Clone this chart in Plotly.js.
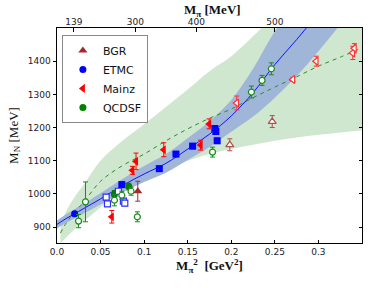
<!DOCTYPE html>
<html><head><meta charset="utf-8">
<script src="https://cdn.plot.ly/plotly-3.0.1.min.js"></script>
<style>body{margin:0;background:#fff;}#chart{width:382px;height:288px;}</style>
</head><body><div id="chart"></div>
<script>
// ---- data ----
const bgrX = [0.0927];
const bgrY = [1008];
const bgrE = [30];
const bgrOpenX = [0.1983, 0.247];
const bgrOpenY = [1148, 1218];
const bgrOpenE = [18, 18];

const etmcX = [0.0202, 0.0744, 0.1174, 0.1365, 0.1556, 0.1811, 0.1823, 0.1838];
const etmcY = [940, 1028, 1076, 1120, 1144, 1197, 1188, 1160];
const etmcE = [6, 8, 8, 8, 8, 8, 8, 8];
const etmcOpenX = [0.0564, 0.0579, 0.0705, 0.0762, 0.0778];
const etmcOpenY = [990, 970, 1008, 978, 972];
const etmcOpenE = [8, 8, 8, 8, 8];

const mainzX = [0.0629, 0.0865, 0.0907, 0.1225, 0.1648, 0.1746];
const mainzY = [931, 1071, 1098, 1133, 1147, 1211];
const mainzE = [19, 12, 25, 21, 15, 15];
const mainzOpenX = [0.2063, 0.2707, 0.2975, 0.3394, 0.3413];
const mainzOpenY = [1274, 1345, 1400, 1425, 1439];
const mainzOpenE = [21, 6, 15, 20, 14];

const qcdsfX = [0.0659, 0.0824];
const qcdsfY = [998, 1022];
const qcdsfE = [12, 10];
const qcdsfOpenX = [0.0247, 0.0327, 0.0659, 0.0744, 0.085, 0.0922, 0.1785, 0.2231, 0.2353, 0.246];
const qcdsfOpenY = [918, 976, 981, 996, 1008, 931, 1126, 1307, 1342, 1377];
const qcdsfOpenE = [20, 60, 17, 12, 12, 15, 15, 18, 15, 18];

// blue fit (solid line) and its band half-width
const blueFitX = [0, 0.01, 0.02, 0.03, 0.05, 0.075, 0.1, 0.125, 0.15, 0.175, 0.2, 0.225, 0.25, 0.275, 0.3, 0.325];
const blueFitY = [908, 925, 940, 955, 985, 1025, 1060, 1092, 1135, 1180, 1235, 1305, 1390, 1465, 1545, 1630];
const blueHalf = [12, 13, 14, 15, 17, 20, 24, 28, 33, 39, 48, 72, 100, 110, 115, 120];

// green fit (dashed line) and its band edges
const greenFitX = [0.004, 0.01, 0.02, 0.03, 0.05, 0.075, 0.1, 0.125, 0.15, 0.175, 0.2, 0.225, 0.25, 0.275, 0.3, 0.325, 0.35];
const greenFitY = [882, 910, 945, 973, 1038, 1085, 1120, 1160, 1196, 1228, 1256, 1290, 1322, 1353, 1385, 1412, 1440];
const greenLow  = [852, 868, 893, 915, 960, 1010, 1045, 1075, 1100, 1120, 1135, 1148, 1160, 1170, 1178, 1185, 1192];
const greenHigh = [905, 945, 990, 1025, 1100, 1160, 1210, 1262, 1315, 1370, 1415, 1475, 1540, 1600, 1660, 1720, 1780];

const xTickVals = [0, 0.05, 0.1, 0.15, 0.2, 0.25, 0.3];
const xTickText = ['0.0', '0.05', '0.1', '0.15', '0.2', '0.25', '0.3'];
const yTickVals = [900, 1000, 1100, 1200, 1300, 1400];
const topTickVals = [0.019321, 0.09, 0.16, 0.25];
const topTickText = ['139', '300', '400', '500'];

// ---- traces ----
const blueLow = blueFitY.map((v, i) => v - blueHalf[i]);
const blueHigh = blueFitY.map((v, i) => v + blueHalf[i]);

function pts(name, x, y, e, color, symbol, size, open, show, symArr) {
  return {
    type: 'scatter', mode: 'markers', name: name, x: x, y: y, showlegend: show,
    error_y: {type: 'data', array: e, visible: true, color: color, thickness: 1, width: 2.5},
    marker: {symbol: symArr || symbol, size: size, color: open ? 'white' : color,
             line: {color: color, width: open ? 1.2 : 0}}
  };
}

const traces = [
  {type: 'scatter', mode: 'lines', x: greenFitX, y: greenLow, line: {width: 0, shape: 'spline'}, showlegend: false, hoverinfo: 'skip'},
  {type: 'scatter', mode: 'lines', x: greenFitX, y: greenHigh, line: {width: 0, shape: 'spline'}, fill: 'tonexty', fillcolor: 'rgb(207,230,207)', showlegend: false, hoverinfo: 'skip'},
  {type: 'scatter', mode: 'lines', x: blueFitX, y: blueLow, line: {width: 0, shape: 'spline'}, showlegend: false, hoverinfo: 'skip'},
  {type: 'scatter', mode: 'lines', x: blueFitX, y: blueHigh, line: {width: 0, shape: 'spline'}, fill: 'tonexty', fillcolor: 'rgb(160,182,216)', showlegend: false, hoverinfo: 'skip'},
  {type: 'scatter', mode: 'lines', x: blueFitX, y: blueFitY, line: {color: '#0000ff', width: 0.9, shape: 'spline'}, showlegend: false},
  {type: 'scatter', mode: 'lines', x: greenFitX, y: greenFitY, line: {color: '#2e8b2e', width: 1, dash: '4px,4px', shape: 'spline'}, showlegend: false},
  pts('BGR', bgrX, bgrY, bgrE, '#a52a2a', 'triangle-up', 8, false, true),
  pts('ETMC', etmcX, etmcY, etmcE, '#0000ff', 'square', 7, false, true, etmcX.map((v, i) => i === 0 ? 'circle' : 'square')),
  pts('Mainz', mainzX, mainzY, mainzE, '#ff0000', 'triangle-left', 8, false, true),
  pts('QCDSF', qcdsfX, qcdsfY, qcdsfE, '#008000', 'circle', 7, false, true),
  pts('BGR open', bgrOpenX, bgrOpenY, bgrOpenE, '#b05050', 'triangle-up', 7, true, false),
  pts('ETMC open', etmcOpenX, etmcOpenY, etmcOpenE, '#3030ff', 'square', 6, true, false),
  pts('Mainz open', mainzOpenX, mainzOpenY, mainzOpenE, '#ff3030', 'triangle-left', 7, true, false),
  pts('QCDSF open', qcdsfOpenX, qcdsfOpenY, qcdsfOpenE, '#1a8a1a', 'circle', 6, true, false),
  // invisible trace so that the top (M_pi) and right axes are drawn
  {type: 'scatter', mode: 'markers', x: [topTickVals[0]], y: [yTickVals[0]], xaxis: 'x2', yaxis: 'y2',
   marker: {size: 1, opacity: 0}, showlegend: false, hoverinfo: 'skip'}
];

const tickFont = {family: 'DejaVu Sans', size: 9, color: '#222'};
const titleFont = {family: 'Liberation Serif', size: 13, color: '#111'};
const yRange = [852, 1500];
const xRange = [0, 0.35];

const layout = {
  width: 382, height: 288,
  margin: {l: 57, r: 20, t: 28, b: 45, pad: 0},
  paper_bgcolor: 'white', plot_bgcolor: 'white',
  showlegend: true,
  legend: {x: 0.016, y: 0.968, xanchor: 'left', yanchor: 'top', bgcolor: 'white', traceorder: 'normal',
           bordercolor: '#888', borderwidth: 1, font: {family: 'DejaVu Sans', size: 11, color: '#111'},
           tracegroupgap: 0, itemwidth: 30},
  xaxis: {range: xRange, tickvals: xTickVals, ticktext: xTickText, ticks: 'inside', ticklen: 3.5,
          tickcolor: '#000', showline: true, linecolor: '#000', linewidth: 1, mirror: true,
          showgrid: false, zeroline: false, tickfont: tickFont,
          title: {text: '<b>M<sub>π</sub><sup>2</sup>  [GeV<sup>2</sup>]</b>', font: titleFont, standoff: 4}},
  xaxis2: {range: xRange, overlaying: 'x', side: 'top', anchor: 'y2', tickvals: topTickVals, ticktext: topTickText,
           ticks: 'inside', ticklen: 3.5, tickcolor: '#000', showline: false, showgrid: false, zeroline: false,
           tickfont: tickFont},
  yaxis: {range: yRange, tickvals: yTickVals, ticks: 'outside', ticklen: 3.5, tickcolor: '#000',
          showline: true, linecolor: '#000', linewidth: 1, mirror: true, showgrid: false, zeroline: false,
          tickfont: tickFont, title: {text: 'M<sub>N</sub> [MeV]', font: titleFont, standoff: 6}},
  yaxis2: {range: yRange, overlaying: 'y', side: 'right', anchor: 'x2', tickvals: yTickVals, ticks: 'inside',
           ticklen: 3.5, tickcolor: '#000', showticklabels: false, showline: false, showgrid: false, zeroline: false},
  annotations: [{text: '<b>M<sub>π</sub> [MeV]</b>', xref: 'paper', yref: 'paper', x: 0.51, y: 1.082,
                 xanchor: 'center', yanchor: 'middle', showarrow: false, font: titleFont}]
};

Plotly.newPlot('chart', traces, layout, {displayModeBar: false, staticPlot: true});
</script>
</body></html>
